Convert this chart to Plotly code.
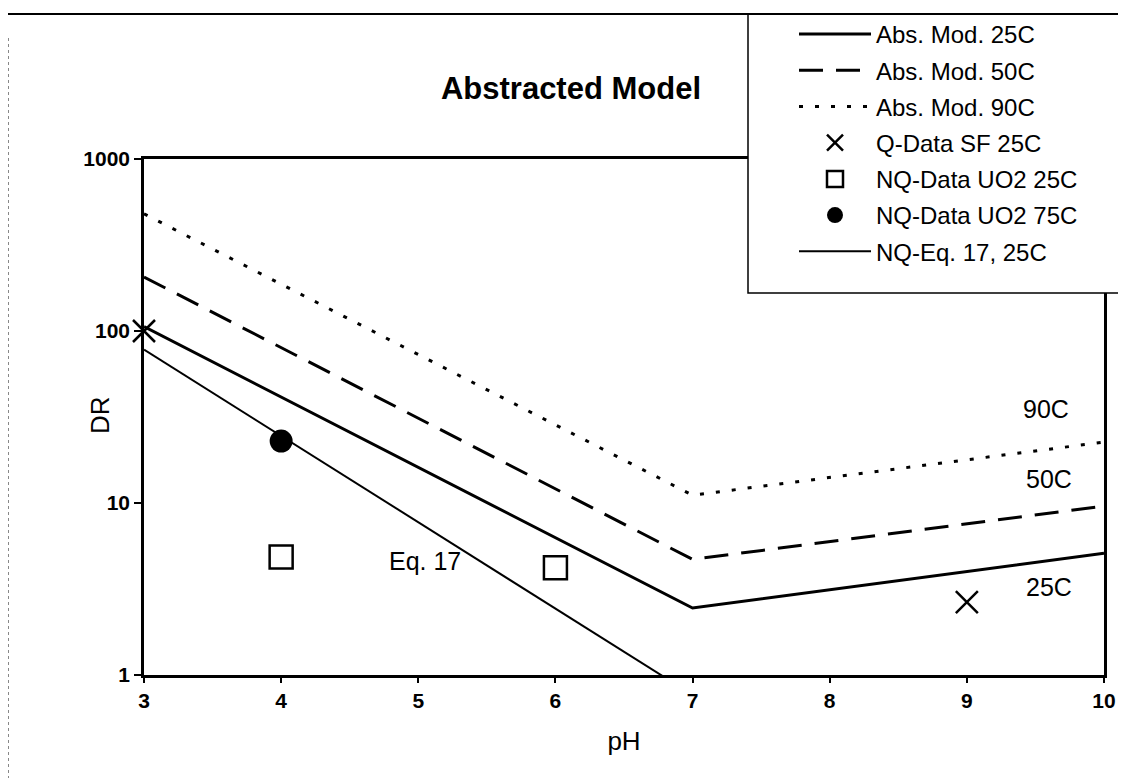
import plotly.graph_objects as go
import math

# ---- data ----
ph_model = [3, 7, 10]
dr_abs_25c = [106, 2.45, 5.1]
dr_abs_50c = [206, 4.7, 9.6]
dr_abs_90c = [480, 11.1, 22.6]

ph_q_sf_25c = [3, 9]
dr_q_sf_25c = [100, 2.65]

ph_nq_uo2_25c = [4, 6]
dr_nq_uo2_25c = [4.85, 4.2]

ph_nq_uo2_75c = [4]
dr_nq_uo2_75c = [22.9]

ph_eq17 = [3, 6.9]
dr_eq17 = [78, 0.86]

x_ticks = [3, 4, 5, 6, 7, 8, 9, 10]
y_ticks = [1, 10, 100, 1000]

curve_labels = ["90C", "50C", "25C", "Eq. 17"]
curve_label_ph = [9.58, 9.6, 9.6, 5.05]
curve_label_dr = [35, 13.8, 3.25, 4.6]

W, H = 1126, 778
L, R, T, B = 136, 30, 151, 111
PW, PH = W - L - R, H - T - B

def px_x(p):
    return (p - L) / PW

def px_y(p):
    return (H - B - p) / PH

FONT = "Arial, Liberation Sans, sans-serif"

fig = go.Figure()

fig.add_trace(go.Scatter(x=ph_model, y=dr_abs_25c, mode="lines", name="Abs. Mod. 25C",
                         legendgroup="a", line=dict(color="black", width=3)))
fig.add_trace(go.Scatter(x=ph_model, y=dr_abs_50c, mode="lines", name="Abs. Mod. 50C",
                         legendgroup="b", line=dict(color="black", width=3, dash="24px,13px")))
fig.add_trace(go.Scatter(x=ph_model, y=dr_abs_90c, mode="lines", name="Abs. Mod. 90C",
                         legendgroup="c", line=dict(color="black", width=3, dash="4px,12px")))
fig.add_trace(go.Scatter(x=ph_q_sf_25c, y=dr_q_sf_25c, mode="markers", name="Q-Data SF 25C",
                         legendgroup="d", cliponaxis=False,
                         marker=dict(symbol="x-thin", size=22, color="black",
                                     line=dict(color="black", width=2.5))))
fig.add_trace(go.Scatter(x=ph_nq_uo2_25c, y=dr_nq_uo2_25c, mode="markers", name="NQ-Data UO2 25C",
                         legendgroup="e", cliponaxis=False,
                         marker=dict(symbol="square-open", size=23, color="black",
                                     line=dict(color="black", width=2.5))))
fig.add_trace(go.Scatter(x=ph_nq_uo2_75c, y=dr_nq_uo2_75c, mode="markers", name="NQ-Data UO2 75C",
                         legendgroup="f", cliponaxis=False,
                         marker=dict(symbol="circle", size=23, color="black")))
fig.add_trace(go.Scatter(x=ph_eq17, y=dr_eq17, mode="lines", name="NQ-Eq. 17, 25C",
                         legendgroup="g", line=dict(color="black", width=2)))

annotations = []
for txt, xp, yv in zip(curve_labels, curve_label_ph, curve_label_dr):
    annotations.append(dict(x=xp, y=math.log10(yv), xref="x", yref="y", text=txt,
                            showarrow=False, font=dict(family=FONT, size=25, color="black")))
annotations.append(dict(x=px_x(92), y=px_y(407), xref="paper", yref="paper", text="DR",
                        xanchor="center", yanchor="middle",
                        textangle=-90, showarrow=False,
                        font=dict(family=FONT, size=26, color="black")))

shapes = [
    # legend frame (white box covering plot's upper-right corner)
    dict(type="rect", xref="paper", yref="paper", layer="above",
         x0=px_x(740), x1=px_x(1140), y0=px_y(285), y1=px_y(6),
         fillcolor="white", line=dict(color="black", width=1.5)),
    # page top rule
    dict(type="line", xref="paper", yref="paper", layer="above",
         x0=px_x(-10), x1=px_x(1140), y0=px_y(6), y1=px_y(6),
         line=dict(color="black", width=2)),
    # faint left page edge
    dict(type="line", xref="paper", yref="paper", layer="above",
         x0=px_x(0.5), x1=px_x(0.5), y0=px_y(30), y1=px_y(778),
         line=dict(color="#888888", width=1, dash="dot")),
]

fig.update_layout(
    width=W, height=H,
    margin=dict(l=L, r=R, t=T, b=B, autoexpand=False),
    paper_bgcolor="white", plot_bgcolor="white",
    font=dict(family=FONT, color="black"),
    title=dict(text="<b>Abstracted Model</b>", x=563 / W, y=1 - 80 / H,
               xanchor="center", yanchor="middle", xref="container", yref="container",
               font=dict(family=FONT, size=31, color="black")),
    showlegend=True,
    legend=dict(x=px_x(786), y=px_y(4), xanchor="left", yanchor="top",
                bgcolor="rgba(0,0,0,0)", borderwidth=0, itemwidth=72,
                tracegroupgap=2, traceorder="grouped",
                font=dict(family=FONT, size=24, color="black")),
    xaxis=dict(range=[3, 10], tickvals=x_ticks, ticktext=[str(v) for v in x_ticks],
               showgrid=False, zeroline=False, showline=True, linecolor="black",
               linewidth=2.5, mirror=True, ticks="outside", ticklen=5, tickwidth=1.5,
               tickcolor="black", ticklabelstandoff=0,
               tickfont=dict(family=FONT, size=21, color="black", weight="bold"),
               title=dict(text="pH", standoff=21,
                          font=dict(family=FONT, size=26, color="black"))),
    yaxis=dict(type="log", range=[0, 3], tickvals=y_ticks,
               ticktext=[str(v) for v in y_ticks],
               showgrid=False, zeroline=False, showline=True, linecolor="black",
               linewidth=2.5, mirror=True, ticks="outside", ticklen=7, tickwidth=1.5,
               tickcolor="black", ticklabelstandoff=0,
               tickfont=dict(family=FONT, size=21, color="black", weight="bold")),
    annotations=annotations,
    shapes=shapes,
)

fig.write_html("out.html")
